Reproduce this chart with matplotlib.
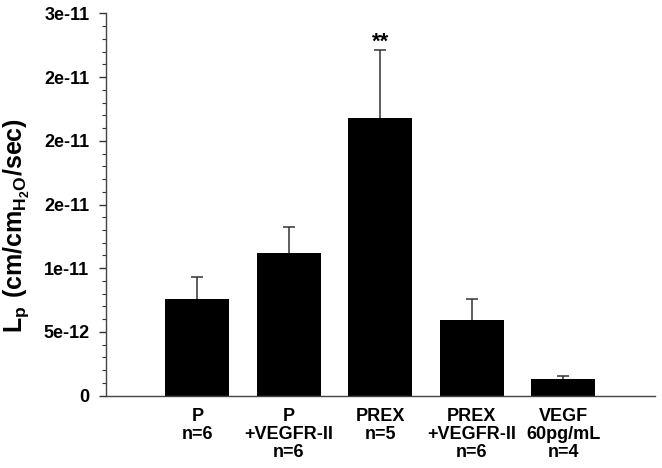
import matplotlib
matplotlib.use("Agg")
import matplotlib.pyplot as plt
from matplotlib.ticker import FixedLocator, MultipleLocator

categories = ["P\nn=6", "P\n+VEGFR-II\nn=6", "PREX\nn=5", "PREX\n+VEGFR-II\nn=6", "VEGF\n60pg/mL\nn=4"]
values = [7.58e-12, 11.17e-12, 21.8e-12, 5.91e-12, 1.29e-12]
errors = [1.75e-12, 2.05e-12, 5.3e-12, 1.69e-12, 0.28e-12]
ytick_vals = [0, 5e-12, 1e-11, 1.5e-11, 2e-11, 2.5e-11, 3e-11]
ytick_labels = ["0", "5e-12", "1e-11", "2e-11", "2e-11", "2e-11", "3e-11"]
annotation = "**"

plt.rcParams['font.family'] = ['Liberation Sans', 'DejaVu Sans']
plt.rcParams['mathtext.fontset'] = 'custom'
plt.rcParams['mathtext.bf'] = 'Liberation Sans:bold'
plt.rcParams['mathtext.rm'] = 'Liberation Sans'

fig = plt.figure(figsize=(6.62, 4.68), dpi=100)
ax = fig.add_axes([0.160, 0.1545, 0.829, 0.817])

x = list(range(1, len(values) + 1))
ax.bar(x, values, width=0.7, color='black', zorder=2)
tops = [v + e for v, e in zip(values, errors)]
ax.vlines(x, values, tops, color='#333333', linewidth=1.1, zorder=1)
ax.hlines(tops, [xi - 0.065 for xi in x], [xi + 0.065 for xi in x],
          color='#333333', linewidth=1.1, zorder=1)

ax.text(x[2], tops[2] + 0.2e-12, annotation, ha='center', va='baseline',
        fontsize=16, fontweight='bold')

ax.set_xlim(0, 6)
ax.set_ylim(0, 3e-11)
ax.set_xticks(x)
ax.set_xticklabels(categories, fontsize=13, fontweight='bold', linespacing=1.07)
ax.tick_params(axis='x', length=0, pad=9)

ax.yaxis.set_major_locator(FixedLocator(ytick_vals))
ax.set_yticklabels(ytick_labels, fontsize=13, fontweight='bold')
ax.yaxis.set_minor_locator(MultipleLocator(1e-12))
ax.tick_params(axis='y', which='major', length=5, width=1, pad=7, color='#333333')
ax.tick_params(axis='y', which='minor', length=3, width=0.8, color='#333333')

for s in ['top', 'right']:
    ax.spines[s].set_visible(False)
for s in ['left', 'bottom']:
    ax.spines[s].set_color('#444444')
    ax.spines[s].set_linewidth(1.0)

ax.set_ylabel(r'$\mathbf{L_p\ (cm/cm_{H_2O}/sec)}$', fontsize=18)
ax.yaxis.set_label_coords(-0.136, 0.445)

fig.savefig("out.png", dpi=100)
